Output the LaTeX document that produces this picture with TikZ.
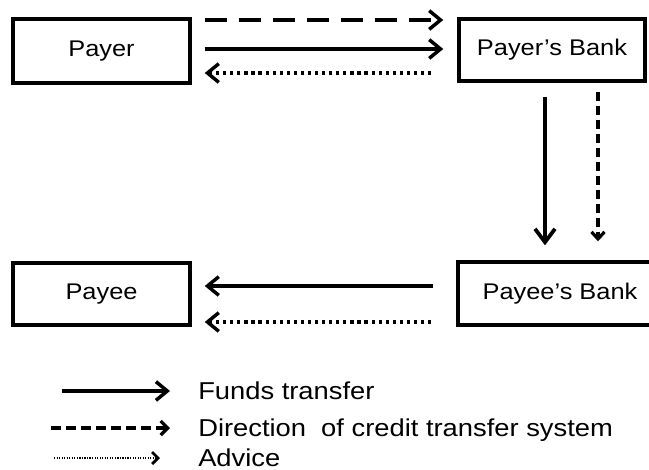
\documentclass[tikz,border=0pt]{standalone}
\usepackage{fontspec}
\setmainfont[FakeStretch=1.12]{Liberation Sans}
\usetikzlibrary{arrows.meta,calc}
\begin{document}
\begin{tikzpicture}[x=0.75pt,y=-0.75pt,
  box/.style={draw,line width=2.6pt,inner sep=0pt,font=\fontsize{17}{20}\selectfont},
  legtext/.style={inner sep=0pt,font=\fontsize{18.3}{22}\selectfont},
  solidarr/.style={line width=2.6pt,-{Straight Barb[length=8.5pt,width=14pt]}},
  bigarr/.style={line width=2.8pt,-{Straight Barb[length=10pt,width=15pt]}},
  dasharr/.style={solidarr,dash pattern=on 16.5pt off 9pt},
  vdasharr/.style={line width=2.4pt,dash pattern=on 6.75pt off 3.75pt,-{Straight Barb[length=5.25pt,width=9.75pt]}},
  dotarr/.style={solidarr,dash pattern=on 2.4pt off 2.9pt},
  legdash/.style={line width=2.4pt,dash pattern=on 7.5pt off 3.75pt,-{Straight Barb[length=5.25pt,width=10.5pt]}},
  legdot/.style={line width=2pt,dash pattern=on 0.9pt off 1pt,-{Straight Barb[length=4.5pt,width=9pt]}}
]
\useasboundingbox (0,0) rectangle (649,470);
\node[box,minimum width=132.75pt,minimum height=48pt] (payer) at (101.5,51) {Payer};
\node[box,minimum width=139.5pt,minimum height=46.5pt] (pbank) at (552,50) {Payer’s Bank};
\node[box,minimum width=132.75pt,minimum height=46.5pt] (payee) at (101.5,294) {Payee};
\node[box,minimum width=153pt,minimum height=47.25pt] (ebank) at (560,293.5) {Payee’s Bank};

\draw[dasharr] ($(payer.east)+(13,-31)$) -- ($(pbank.west)+(-14,-30)$);
\draw[solidarr] ($(payer.east)+(13,-2)$) -- ($(pbank.west)+(-14,-1)$);
\draw[dotarr] ($(pbank.west)+(-26,23)$) -- ($(payer.east)+(13,22)$);
\draw[bigarr] ($(pbank.south)+(-7,14)$) -- ($(ebank.north)+(-15,-15)$);
\draw[vdasharr] ($(pbank.south)+(46,9)$) -- ($(ebank.north)+(38,-19)$);
\draw[solidarr] ($(ebank.west)+(-23,-7.5)$) -- ($(payee.east)+(13,-8)$);
\draw[dotarr] ($(ebank.west)+(-25,28.5)$) -- ($(payee.east)+(13,28)$);

\coordinate (l1a) at (62,391); \coordinate (l1b) at (170,391);
\coordinate (l2a) at (51,428); \coordinate (l2b) at (170,428);
\coordinate (l3a) at (54,458); \coordinate (l3b) at (160,458);
\draw[solidarr] (l1a) -- (l1b);
\draw[legdash] (l2a) -- (l2b);
\draw[legdot] (l3a) -- (l3b);
\node[legtext,anchor=base west] (t1) at (198,399) {Funds transfer};
\node[legtext,anchor=base west] (t2) at (198,436) {Direction\ \ of credit transfer system};
\node[legtext,anchor=base west] (t3) at (198,466) {Advice};
\end{tikzpicture}
\end{document}
